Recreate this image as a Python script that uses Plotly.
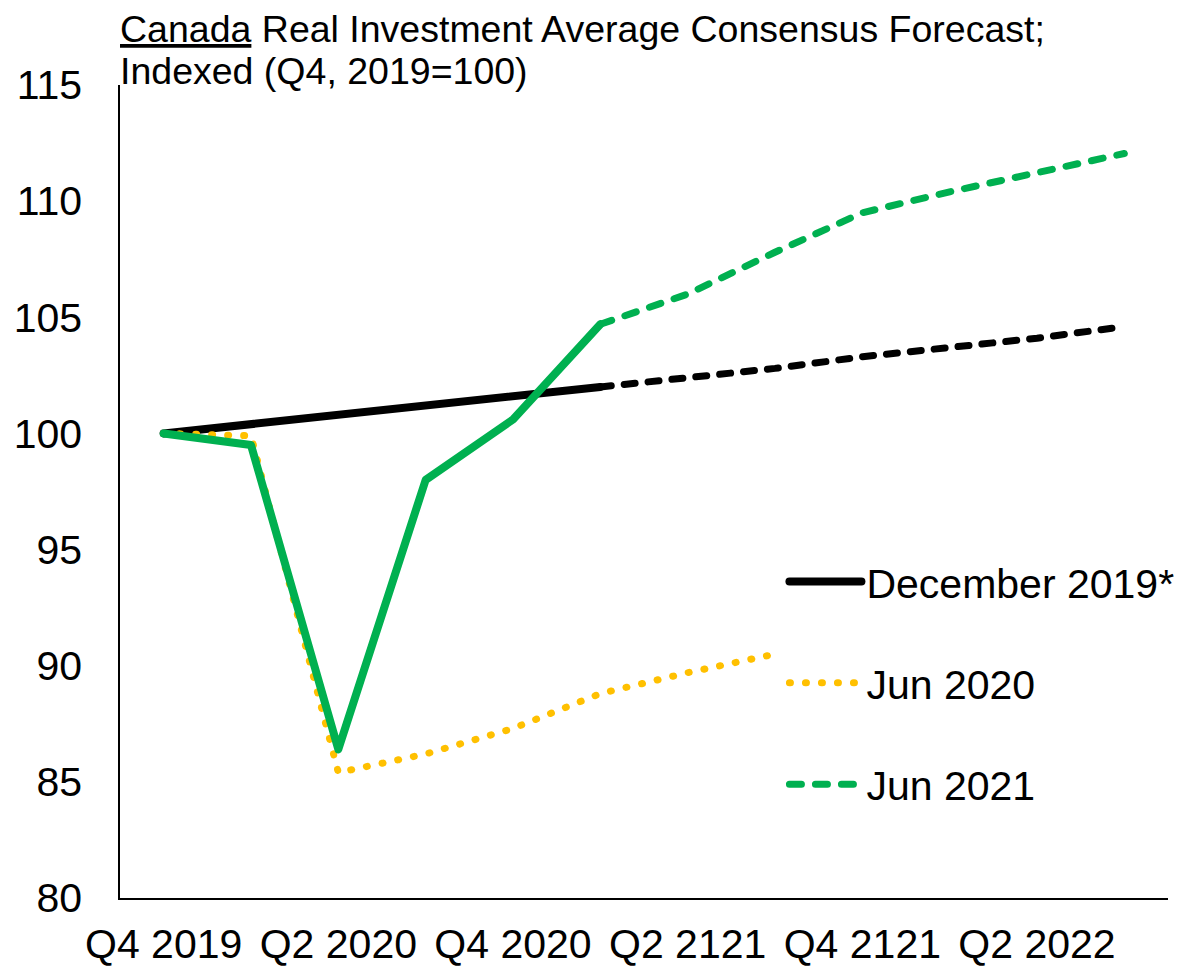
import plotly.graph_objects as go

# Quarters on the category axis and the labels printed under every second one
quarters = ["Q4 2019", "Q1 2020", "Q2 2020", "Q3 2020", "Q4 2020", "Q1 2021",
            "Q2 2021", "Q3 2021", "Q4 2021", "Q1 2022", "Q2 2022", "Q3 2022"]
tick_labels = ["Q4 2019", "Q2 2020", "Q4 2020", "Q2 2121", "Q4 2121", "Q2 2022"]

# December 2019 consensus: solid through Q1 2021, dashed afterwards
dec2019_solid = [100.0, 100.4, 100.8, 101.2, 101.6, 102.0]
dec2019_dashed = [102.0, 102.4, 102.8, 103.3, 103.7, 104.1, 104.6]

# June 2020 consensus (Q4 2019 - Q3 2021)
jun2020 = [100.0, 99.9, 85.4, 86.2, 87.3, 88.8, 89.7, 90.5]

# June 2021 consensus: solid through Q1 2021, dashed afterwards
jun2021_solid = [100.0, 99.5, 86.4, 98.0, 100.6, 104.7]
jun2021_dashed = [104.7, 106.0, 107.8, 109.5, 110.4, 111.2, 112.05]

BLACK = "#000000"
YELLOW = "#FFC000"
GREEN = "#00B050"
FONT = "Liberation Sans, Arial, sans-serif"

n_solid = len(dec2019_solid)

fig = go.Figure()

fig.add_trace(go.Scatter(
    x=quarters[:n_solid], y=dec2019_solid, mode="lines",
    name="December 2019*", legendgroup="dec",
    line=dict(color=BLACK, width=8)))
fig.add_trace(go.Scatter(
    x=quarters[n_solid - 1:], y=dec2019_dashed, mode="lines",
    name="December 2019*", legendgroup="dec", showlegend=False,
    line=dict(color=BLACK, width=7, dash="11px,13px")))

fig.add_trace(go.Scatter(
    x=quarters[:len(jun2020)], y=jun2020, mode="lines",
    name="Jun 2020", legendgroup="j20",
    line=dict(color=YELLOW, width=7, dash="1px,15px")))

fig.add_trace(go.Scatter(
    x=quarters[:n_solid], y=jun2021_solid, mode="lines",
    name="Jun 2021", legendgroup="j21", showlegend=False,
    line=dict(color=GREEN, width=8)))
fig.add_trace(go.Scatter(
    x=quarters[n_solid - 1:], y=jun2021_dashed, mode="lines",
    name="Jun 2021", legendgroup="j21",
    line=dict(color=GREEN, width=7, dash="12px,14px")))

fig.update_xaxes(
    type="category", categoryorder="array", categoryarray=quarters,
    range=[-0.5, len(quarters) - 0.5],
    tickvals=quarters[::2], ticktext=tick_labels,
    showline=True, linecolor=BLACK, linewidth=1.5,
    showgrid=False, zeroline=False, ticks="",
    ticklabelstandoff=9,
    tickfont=dict(family=FONT, size=41, color=BLACK))
fig.update_yaxes(
    range=[80, 115], dtick=5, tick0=80,
    showline=True, linecolor=BLACK, linewidth=1.5,
    showgrid=False, zeroline=False, ticks="",
    ticklabelstandoff=28,
    tickfont=dict(family=FONT, size=41, color=BLACK))

fig.add_annotation(
    xref="paper", yref="paper", x=0.0, y=1.0, xanchor="left", yanchor="bottom",
    yshift=33, xshift=-2,
    text="<u>Canada</u> Real Investment Average Consensus Forecast;",
    showarrow=False, font=dict(family=FONT, size=37.5, color=BLACK))
fig.add_annotation(
    xref="paper", yref="paper", x=0.0, y=1.0, xanchor="left", yanchor="bottom",
    yshift=-9, xshift=-2,
    text="Indexed (Q4, 2019=100)",
    showarrow=False, font=dict(family=FONT, size=37.5, color=BLACK))

fig.update_layout(
    width=1185, height=969,
    margin=dict(l=120, r=17, t=85, b=71, autoexpand=False),
    paper_bgcolor="white", plot_bgcolor="white",
    font=dict(family=FONT, color=BLACK),
    showlegend=True,
    legend=dict(
        x=0.634, y=0.43, xanchor="left", yanchor="top",
        bgcolor="rgba(0,0,0,0)", borderwidth=0,
        font=dict(family=FONT, size=41, color=BLACK),
        itemwidth=72, tracegroupgap=45, traceorder="grouped",
        itemclick=False, itemdoubleclick=False),
)

# round dash caps and joins for the lines
post = """
document.querySelectorAll('path.js-line').forEach(function(p){
  p.style.strokeLinecap = 'round';
  p.style.strokeLinejoin = 'round';
});
"""

fig.write_html("out.html", post_script=post, config={"displayModeBar": False})
